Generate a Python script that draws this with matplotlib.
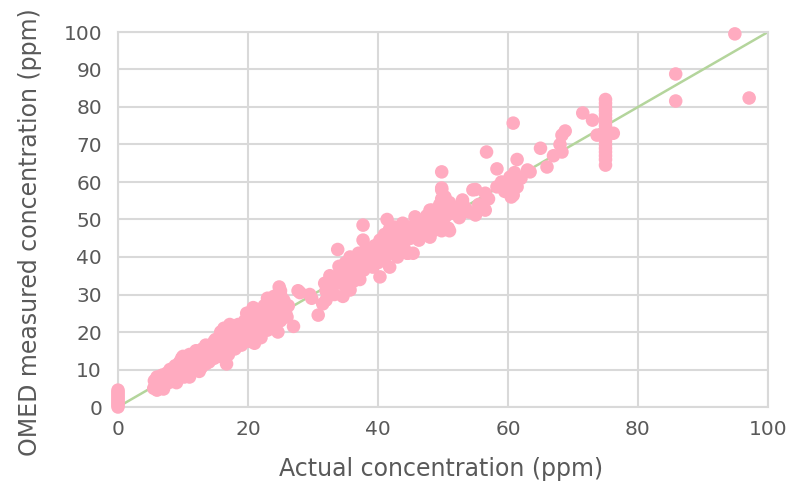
import matplotlib
matplotlib.use("Agg")
import matplotlib.pyplot as plt

# ---- data (actual ppm, measured ppm) ----
zero_actual = [0, 0, 0, 0, 0, 0, 0, 0, 0, 0]
zero_measured = [0.0, 0.5, 1.0, 1.5, 2.0, 2.5, 3.0, 3.5, 4.0, 4.5]

low_pairs = [
    (5.5, 5.0), (5.6, 7.0), (5.8, 6.0), (6.0, 8.0), (6.0, 4.5), (6.2, 5.5), (6.5, 7.0), (6.8, 8.5), (7.0, 6.0), (7.0, 4.8),
    (7.3, 7.5), (7.5, 9.0), (7.8, 6.5), (8.0, 8.0), (8.0, 10.0), (8.3, 7.0), (8.5, 9.0), (8.8, 11.0), (9.0, 8.0), (9.0, 6.5),
    (9.3, 10.0), (9.5, 12.0), (9.8, 9.0), (10.0, 11.0), (10.0, 13.5), (10.2, 8.0), (10.5, 10.0), (10.8, 12.5), (11.0, 9.5), (11.0, 14.0),
    (11.3, 11.0), (11.5, 13.0), (11.8, 10.5), (12.0, 12.0), (12.0, 15.0), (12.3, 11.0), (12.5, 13.5), (12.8, 10.5), (13.0, 12.5), (13.0, 15.5),
    (13.3, 14.0), (13.5, 11.5), (13.8, 13.0), (14.0, 15.0), (14.0, 12.0), (14.3, 16.5), (14.5, 14.0), (14.8, 13.0), (15.0, 15.5), (15.0, 18.0),
    (15.3, 14.0), (15.5, 16.5), (15.8, 13.5), (16.0, 17.0), (16.0, 19.0), (16.2, 15.0), (16.5, 18.0), (16.7, 11.5), (16.8, 20.5), (17.0, 16.0),
    (17.0, 14.0), (17.3, 19.0), (17.5, 17.0), (17.8, 21.0), (18.0, 15.5), (18.0, 18.5), (18.3, 20.0), (18.5, 22.0), (18.5, 17.0), (18.8, 19.5),
    (19.0, 21.5), (19.0, 16.5), (19.3, 18.0), (19.5, 23.0), (19.5, 20.0), (19.8, 25.0), (20.0, 18.5), (20.0, 21.5), (20.0, 24.0), (20.3, 17.5),
    (14.8, 17.5), (15.8, 20.0), (16.3, 21.0), (17.2, 22.0), (13.5, 16.5), (12.5, 9.5), (11.0, 8.0), (9.8, 13.0),
]
low_actual = [p[0] for p in low_pairs]
low_measured = [p[1] for p in low_pairs]

mid_pairs = [
    (20.5, 20.0), (20.5, 22.5), (20.8, 19.0), (21.0, 21.0), (21.0, 24.5), (21.3, 26.0), (21.5, 19.5), (21.5, 22.5), (21.8, 20.0), (22.0, 23.0),
    (22.0, 25.5), (22.3, 21.0), (22.5, 24.0), (22.5, 27.0), (22.8, 22.0), (23.0, 25.0), (23.0, 20.5), (23.3, 23.5), (23.5, 28.0), (23.5, 21.5),
    (23.8, 26.0), (24.0, 24.0), (24.0, 29.5), (24.3, 22.5), (24.5, 27.5), (24.5, 25.0), (24.8, 32.0), (25.0, 30.0), (25.0, 23.0), (25.3, 26.5),
    (25.5, 28.5), (25.8, 25.0), (26.0, 24.0), (26.2, 27.0), (27.0, 21.5), (27.7, 31.0), (28.0, 30.5), (29.5, 30.0), (29.8, 29.0), (30.8, 24.5),
    (31.5, 27.5), (31.8, 33.0), (32.0, 28.5), (32.0, 31.0), (32.6, 35.0), (33.0, 32.5), (33.3, 30.0), (33.7, 34.7), (33.8, 42.0), (34.0, 37.5),
    (34.3, 33.0), (34.6, 29.5), (34.8, 36.0), (35.0, 38.5), (35.2, 31.5), (35.5, 35.0), (35.7, 40.0), (35.7, 31.2),
    (21.0, 17.0), (22.0, 18.5), (23.0, 29.0), (24.6, 20.0), (25.0, 31.0), (20.8, 26.5),
]
mid_actual = [p[0] for p in mid_pairs]
mid_measured = [p[1] for p in mid_pairs]

high_pairs = [
    (36.0, 37.0), (36.2, 33.5), (36.5, 39.0), (36.8, 36.0), (37.0, 41.0), (37.2, 34.0), (37.5, 38.0), (37.7, 48.5), (37.7, 44.5), (37.8, 36.5),
    (38.0, 40.0), (38.2, 42.5), (38.5, 37.5), (38.8, 39.0), (39.0, 41.5), (39.2, 37.3), (39.5, 43.0), (39.8, 40.0), (40.0, 38.5), (40.0, 42.0),
    (40.3, 34.7), (40.3, 44.5), (40.5, 40.5), (40.8, 42.7), (41.0, 46.0), (41.0, 39.0), (41.4, 50.0), (41.5, 43.5), (41.8, 37.3), (41.8, 47.5),
    (42.0, 41.0), (42.3, 44.5), (42.5, 48.0), (42.8, 42.0), (42.9, 45.3), (43.0, 40.0), (43.3, 47.0), (43.5, 44.0), (43.8, 49.0), (44.0, 42.5),
    (44.3, 46.0), (44.5, 41.0), (44.6, 41.0), (44.8, 48.0), (45.0, 45.0), (45.4, 46.4), (45.4, 41.0), (45.7, 50.7), (46.0, 47.5), (46.3, 44.5),
    (46.5, 49.0), (47.0, 46.0), (47.3, 48.5), (47.5, 51.0), (48.0, 49.0), (48.0, 52.5), (48.0, 45.3), (48.3, 52.5), (48.5, 47.0), (49.0, 50.0),
    (49.5, 51.7), (49.5, 54.0), (49.8, 47.0), (49.8, 52.5), (49.8, 55.5), (49.8, 57.9), (49.8, 58.4), (49.8, 62.7), (50.0, 49.5), (50.0, 53.0),
    (50.3, 56.0), (50.5, 51.0), (50.8, 47.7), (51.0, 47.0), (51.0, 54.5), (51.3, 52.5), (51.6, 51.7), (52.1, 52.5), (52.5, 50.5), (53.0, 54.4),
    (53.0, 55.2), (53.5, 53.0), (54.0, 52.0), (54.6, 57.9), (55.0, 51.2), (55.0, 58.0), (55.5, 54.0), (56.5, 57.0), (56.5, 52.5), (56.7, 68.0),
    (57.0, 55.5), (58.3, 58.7), (58.3, 63.5), (59.0, 60.0), (59.5, 57.5), (60.0, 59.0), (60.3, 61.3), (60.3, 57.9), (60.5, 56.0), (60.8, 56.5),
    (60.8, 75.7), (61.0, 62.5), (61.4, 58.7), (61.4, 66.0), (62.0, 61.0), (63.0, 63.2), (63.4, 62.7), (65.0, 69.0), (66.0, 64.0), (67.0, 67.0),
    (68.0, 70.0), (68.3, 68.0), (68.3, 72.5), (68.8, 73.6), (71.5, 78.4), (73.0, 76.5), (73.7, 72.5), (76.2, 73.0),
]
high_actual = [p[0] for p in high_pairs]
high_measured = [p[1] for p in high_pairs]

col75_actual = [75] * 18
col75_measured = [64.5, 66, 67, 68, 69, 70, 71, 72, 73, 74, 75, 76, 77, 78, 79, 80, 81, 82]

outlier_actual = [85.8, 85.8, 94.9, 97.1]
outlier_measured = [88.8, 81.6, 99.5, 82.4]

ideal_line = [0, 100]
ticks_x = [0, 20, 40, 60, 80, 100]
ticks_y = [0, 10, 20, 30, 40, 50, 60, 70, 80, 90, 100]

xs = zero_actual + low_actual + mid_actual + high_actual + col75_actual + outlier_actual
ys = zero_measured + low_measured + mid_measured + high_measured + col75_measured + outlier_measured

# ---- drawing ----
plt.rcParams['font.family'] = ['DejaVu Sans']
text_col = '#595959'
grid_col = '#D9D9D9'

fig = plt.figure(figsize=(7.91, 4.86), dpi=100)
ax = fig.add_axes([118/791, 79/486, 650/791, 375/486])

ax.plot(ideal_line, ideal_line, color='#B4D59C', lw=1.8, zorder=2)
ax.scatter(xs, ys, s=95, color='#FFABC0', edgecolors='none', zorder=3, clip_on=False)

ax.set_xlim(0, 100)
ax.set_ylim(0, 100)
ax.set_xticks(ticks_x)
ax.set_yticks(ticks_y)
ax.grid(True, color=grid_col, lw=1.5, zorder=0)
ax.set_axisbelow(True)
for sp in ax.spines.values():
    sp.set_color(grid_col)
    sp.set_linewidth(1.5)
ax.tick_params(axis='y', length=0, labelsize=14.5, colors=text_col, pad=11.5)
ax.tick_params(axis='x', length=0, labelsize=14.5, colors=text_col, pad=9)
ax.set_xlabel('Actual concentration (ppm)', fontsize=17, color=text_col)
ax.set_ylabel('OMED measured concentration (ppm)', fontsize=17, color=text_col)
ax.xaxis.set_label_coords(0.497, -0.132)
ax.yaxis.set_label_coords(-0.117, 0.467)

fig.savefig('out.png', dpi=100)
